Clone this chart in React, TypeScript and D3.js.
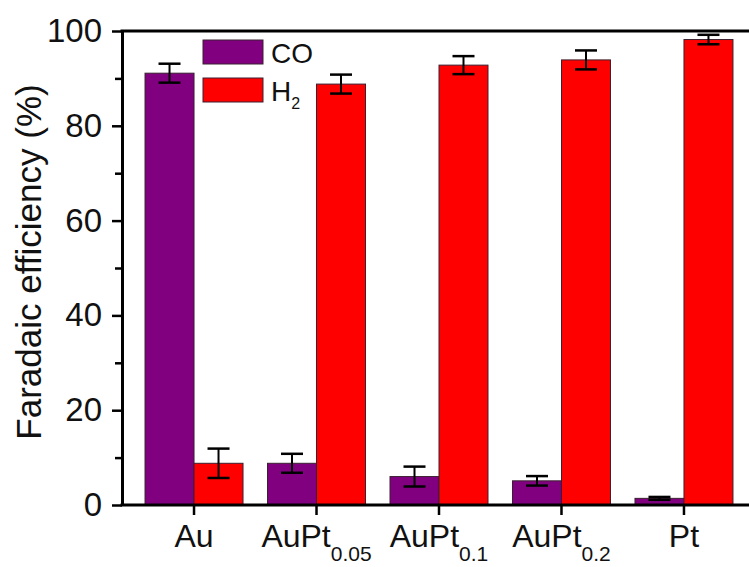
import { useRef, useEffect } from "react";
import * as d3 from "d3";

const categories = ["Au", "AuPt0.05", "AuPt0.1", "AuPt0.2", "Pt"];
const labelBase = ["Au", "AuPt", "AuPt", "AuPt", "Pt"];
const labelSub = ["", "0.05", "0.1", "0.2", ""];

const coValues = [91.1, 8.8, 6.0, 5.1, 1.4];
const coErrors = [2.0, 2.0, 2.1, 1.0, 0.3];
const h2Values = [8.8, 88.8, 92.8, 93.9, 98.2];
const h2Errors = [3.1, 2.0, 1.9, 2.0, 1.0];

const majorTicks = [0, 20, 40, 60, 80, 100];
const minorTicks = [10, 30, 50, 70, 90];

const FONT = "'Liberation Sans', Arial, sans-serif";

const App = () => {
  const svgRef = useRef<SVGSVGElement | null>(null);

  useEffect(() => {
    const svg = d3.select(svgRef.current);
    svg.selectAll("*").remove();

    const width = 749;
    const plot = { left: 122, right: 756, top: 31, bottom: 505 };

    const x = d3
      .scaleBand<string>()
      .domain(categories)
      .range([plot.left, plot.right])
      .paddingInner(0)
      .paddingOuter(0.088);

    const y = d3.scaleLinear().domain([0, 100]).range([plot.bottom, plot.top]);

    const barW = x.bandwidth() * 0.4;

    const series = [
      { key: "CO", values: coValues, errors: coErrors, color: "#800080", offset: -barW },
      { key: "H2", values: h2Values, errors: h2Errors, color: "#ff0000", offset: 0 },
    ];

    const center = (c: string) => (x(c) ?? 0) + x.bandwidth() / 2;

    // bars
    series.forEach((s) => {
      svg
        .append("g")
        .selectAll("rect")
        .data(categories)
        .join("rect")
        .attr("x", (c) => center(c) + s.offset)
        .attr("y", (_, i) => y(s.values[i]))
        .attr("width", barW)
        .attr("height", (_, i) => y(0) - y(s.values[i]))
        .attr("fill", s.color)
        .attr("stroke", "#3a2030")
        .attr("stroke-width", 1);
    });

    // error bars
    series.forEach((s) => {
      const g = svg.append("g").attr("stroke", "#000").attr("stroke-width", 2);
      categories.forEach((c, i) => {
        const cx = center(c) + s.offset + barW / 2;
        const hi = y(s.values[i] + s.errors[i]);
        const lo = y(s.values[i] - s.errors[i]);
        g.append("line").attr("x1", cx).attr("x2", cx).attr("y1", hi).attr("y2", lo);
        g.append("line").attr("x1", cx - 11).attr("x2", cx + 11).attr("y1", hi).attr("y2", hi).attr("stroke-width", 2.5);
        g.append("line").attr("x1", cx - 11).attr("x2", cx + 11).attr("y1", lo).attr("y2", lo).attr("stroke-width", 2.5);
      });
    });

    // left axis
    const yAxis = svg
      .append("g")
      .attr("transform", `translate(${plot.left},0)`)
      .call(d3.axisLeft(y).tickValues(majorTicks).tickSize(10).tickPadding(10).tickSizeOuter(0));
    yAxis.select(".domain").attr("stroke-width", 3);
    yAxis.selectAll(".tick line").attr("stroke-width", 2.5);
    yAxis
      .selectAll(".tick text")
      .attr("font-family", FONT)
      .attr("font-size", 33)
      .attr("fill", "#111");

    svg
      .append("g")
      .attr("transform", `translate(${plot.left},0)`)
      .call(d3.axisLeft(y).tickValues(minorTicks).tickSize(7).tickFormat(() => "").tickSizeOuter(0))
      .call((g) => g.select(".domain").remove())
      .selectAll(".tick line")
      .attr("stroke-width", 2.5);

    // top frame
    svg
      .append("line")
      .attr("x1", plot.left - 1.5)
      .attr("x2", width)
      .attr("y1", plot.top)
      .attr("y2", plot.top)
      .attr("stroke", "#000")
      .attr("stroke-width", 3);

    // bottom axis
    const xAxis = svg
      .append("g")
      .attr("transform", `translate(0,${plot.bottom})`)
      .call(d3.axisBottom(x).tickSize(10).tickSizeOuter(0).tickFormat(() => ""));
    xAxis.select(".domain").attr("stroke-width", 3).attr("d", `M${plot.left - 1.5},0H${width}`);
    xAxis.selectAll(".tick line").attr("stroke-width", 2.5);

    const labels = svg
      .append("g")
      .attr("font-family", FONT)
      .attr("fill", "#111")
      .attr("text-anchor", "middle");
    categories.forEach((c, i) => {
      const t = labels
        .append("text")
        .attr("x", center(c))
        .attr("y", 547)
        .attr("font-size", 32);
      t.append("tspan").text(labelBase[i]);
      if (labelSub[i]) {
        t.append("tspan").attr("dy", 14).attr("font-size", 21).text(labelSub[i]);
      }
    });

    // y label
    svg
      .append("text")
      .attr("transform", `translate(41,262) rotate(-90)`)
      .attr("text-anchor", "middle")
      .attr("font-family", FONT)
      .attr("font-size", 35)
      .attr("fill", "#111")
      .text("Faradaic efficiency (%)");

    // legend
    const legend = svg.append("g").attr("font-family", FONT).attr("fill", "#111");
    series.forEach((s, i) => {
      const row = legend.append("g").attr("transform", `translate(203,${40 + i * 38})`);
      row
        .append("rect")
        .attr("width", 60)
        .attr("height", 24)
        .attr("fill", s.color)
        .attr("stroke", "#3a2030")
        .attr("stroke-width", 1);
      const t = row.append("text").attr("x", 68).attr("y", 23).attr("font-size", 28);
      if (s.key === "H2") {
        t.append("tspan").text("H");
        t.append("tspan").attr("dy", 8).attr("font-size", 16).text("2");
      } else {
        t.text(s.key);
      }
    });
  }, []);

  return (
    <svg
      ref={svgRef}
      width={749}
      height={567}
      style={{ position: "absolute", left: 0, top: 0, background: "#fff", overflow: "hidden" }}
    />
  );
};

export default App;
